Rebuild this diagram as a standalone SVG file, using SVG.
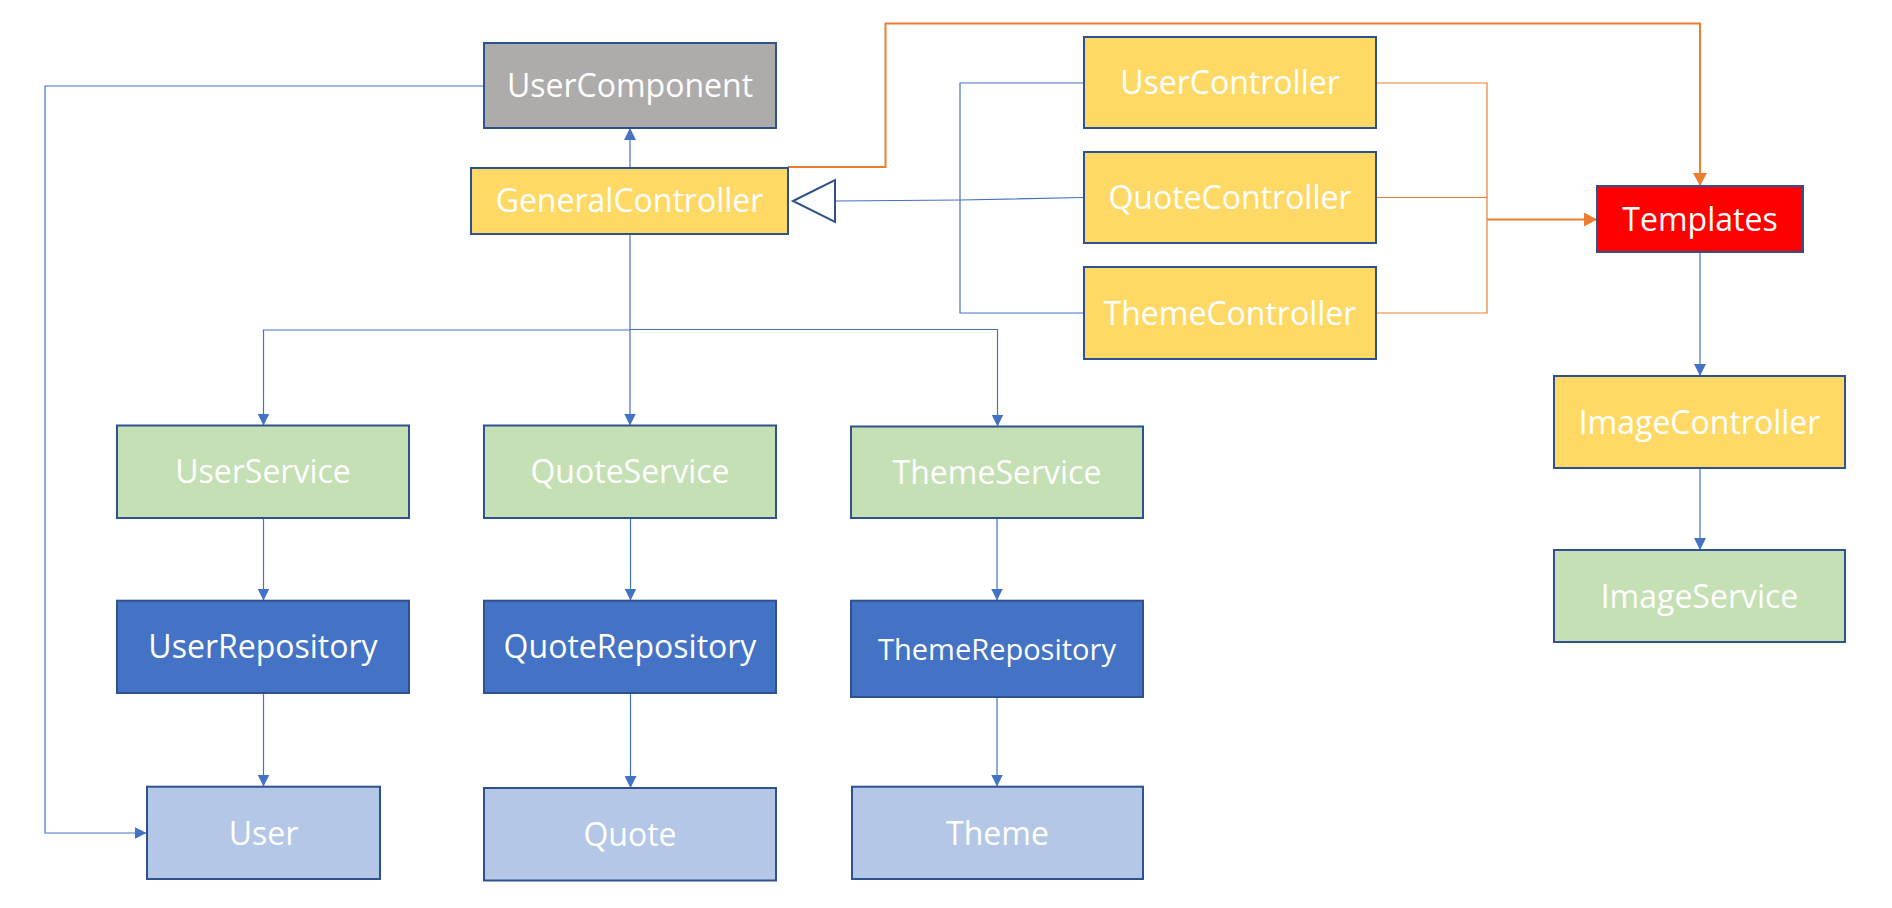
<svg xmlns="http://www.w3.org/2000/svg" width="1892" height="908" viewBox="0 0 1892 908">
<style>
.box{stroke:#2F528F;stroke-width:2}
.gray{fill:#AEABAB}
.yellow{fill:#FFD966}
.green{fill:#C5E0B4}
.repo{fill:#4472C4}
.entity{fill:#B4C7E7}
.red{fill:#FF0000}
.lbl{font-family:"Open Sans","Segoe UI","DejaVu Sans",sans-serif;font-size:32px;fill:#FFFFFF;text-anchor:middle}
.small{font-size:29px}
.b{fill:none;stroke:#4472C4;stroke-width:1.2}
.o{fill:none;stroke:#ED7D31;stroke-width:1.2}
.o2{fill:none;stroke:#ED7D31;stroke-width:2}
</style>
<defs>
<marker id="ab" markerUnits="userSpaceOnUse" markerWidth="12" markerHeight="12" refX="12" refY="6" orient="auto"><path d="M0,0 L12,6 L0,12 z" fill="#4472C4"/></marker>
<marker id="ao" markerUnits="userSpaceOnUse" markerWidth="13" markerHeight="14" refX="13" refY="7" orient="auto"><path d="M0,0 L13,7 L0,14 z" fill="#ED7D31"/></marker>
</defs>
<rect width="1892" height="908" fill="#FFFFFF"/>
<g id="connectors">
<path class="b" d="M630,168 V128" marker-end="url(#ab)"/>
<path class="b" d="M630,234 V425.5" marker-end="url(#ab)"/>
<path class="b" d="M630,330 H263.5 V425.5" marker-end="url(#ab)"/>
<path class="b" d="M630,329.5 H997.5 V426.5" marker-end="url(#ab)"/>
<path class="b" d="M484,86 H45 V833 H146.5" marker-end="url(#ab)"/>
<path class="b" d="M263.5,518 V600.5" marker-end="url(#ab)"/>
<path class="b" d="M630.5,518 V600.5" marker-end="url(#ab)"/>
<path class="b" d="M997,518 V600.5" marker-end="url(#ab)"/>
<path class="b" d="M263.5,693 V786.5" marker-end="url(#ab)"/>
<path class="b" d="M630.5,693 V788" marker-end="url(#ab)"/>
<path class="b" d="M997,697 V786.5" marker-end="url(#ab)"/>
<path class="b" d="M1700,252 V376" marker-end="url(#ab)"/>
<path class="b" d="M1700,468 V550" marker-end="url(#ab)"/>
<path class="b" d="M1084,83 H960 V313 H1084"/>
<path class="b" d="M1084,197.5 L960,200 L835,201"/>
<polygon points="793,201 835,180 835,222" fill="#FFFFFF" stroke="#2F528F" stroke-width="2"/>
<path class="o2" d="M788,167 H885.5 V23.5 H1700 V186" marker-end="url(#ao)"/>
<path class="o" d="M1376,83 H1487 V313 H1376"/>
<path class="o" d="M1376,197.5 H1487"/>
<path class="o2" d="M1487,219.5 H1597" marker-end="url(#ao)"/>
</g>
<g id="UserComponent"><rect class="box gray" x="484" y="43" width="292" height="85"/><text class="lbl" x="630" y="97">UserComponent</text></g>
<g id="GeneralController"><rect class="box yellow" x="471" y="168" width="317" height="66"/><text class="lbl" x="629.5" y="212">GeneralController</text></g>
<g id="UserController"><rect class="box yellow" x="1084" y="37" width="292" height="91"/><text class="lbl" x="1230" y="94">UserController</text></g>
<g id="QuoteController"><rect class="box yellow" x="1084" y="152" width="292" height="91"/><text class="lbl" x="1230" y="209">QuoteController</text></g>
<g id="ThemeController"><rect class="box yellow" x="1084" y="267" width="292" height="92"/><text class="lbl" x="1230" y="324.5">ThemeController</text></g>
<g id="Templates"><rect class="box red" x="1597" y="186" width="206" height="66"/><text class="lbl" x="1700" y="230.5">Templates</text></g>
<g id="ImageController"><rect class="box yellow" x="1554" y="376" width="291" height="92"/><text class="lbl" x="1699.5" y="433.5">ImageController</text></g>
<g id="ImageService"><rect class="box green" x="1554" y="550" width="291" height="92"/><text class="lbl" x="1699.5" y="607.5">ImageService</text></g>
<g id="UserService"><rect class="box green" x="117" y="425.5" width="292" height="92.5"/><text class="lbl" x="263" y="483">UserService</text></g>
<g id="QuoteService"><rect class="box green" x="484" y="425.5" width="292" height="92.5"/><text class="lbl" x="630" y="483">QuoteService</text></g>
<g id="ThemeService"><rect class="box green" x="851" y="426.5" width="292" height="91.5"/><text class="lbl" x="997" y="483.5">ThemeService</text></g>
<g id="UserRepository"><rect class="box repo" x="117" y="600.7" width="292" height="92.3"/><text class="lbl" x="263" y="658.3">UserRepository</text></g>
<g id="QuoteRepository"><rect class="box repo" x="484" y="600.7" width="292" height="92.3"/><text class="lbl" x="630" y="658.3">QuoteRepository</text></g>
<g id="ThemeRepository"><rect class="box repo" x="851" y="600.7" width="292" height="96.3"/><text class="lbl small" x="997" y="660">ThemeRepository</text></g>
<g id="User"><rect class="box entity" x="147" y="786.7" width="233" height="92.3"/><text class="lbl" x="263.5" y="845">User</text></g>
<g id="Quote"><rect class="box entity" x="484" y="788" width="292" height="92.5"/><text class="lbl" x="630" y="846">Quote</text></g>
<g id="Theme"><rect class="box entity" x="852" y="786.7" width="291" height="92.3"/><text class="lbl" x="997.5" y="845">Theme</text></g>
</svg>
